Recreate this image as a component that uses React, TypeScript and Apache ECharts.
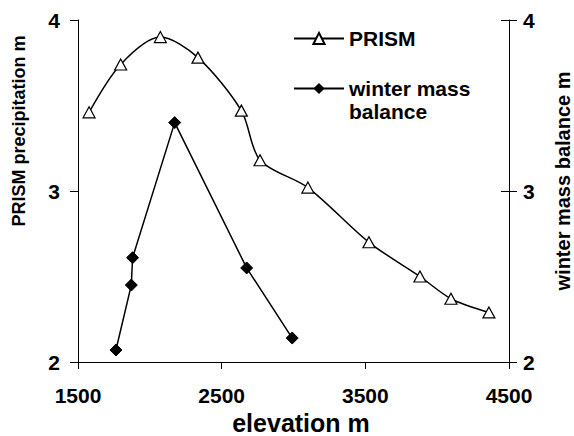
import React, { useEffect, useRef } from "react";
import * as echarts from "echarts";

const prismElev = [1577, 1797, 2073, 2335, 2637, 2767, 3100, 3525, 3880, 4096, 4360];
const prismPrecip = [3.46, 3.74, 3.9, 3.78, 3.47, 3.18, 3.02, 2.7, 2.5, 2.37, 2.29];
const wmbElev = [1764, 1871, 1880, 2173, 2674, 2991];
const wmbValue = [2.07, 2.45, 2.61, 3.4, 2.55, 2.14];

const xTicks = { min: 1500, max: 4500, interval: 1000 };
const yTicks = { min: 2, max: 4, interval: 1 };

const FONT = "'Liberation Sans', Arial, sans-serif";

export default function App() {
  const ref = useRef<HTMLDivElement>(null);
  useEffect(() => {
    if (!ref.current) return;
    const chart = echarts.init(ref.current, undefined, { renderer: "svg" });
    const axisLine = { show: true, lineStyle: { color: "#000", width: 1 } };
    const labelStyle = { color: "#000", fontSize: 21, fontWeight: "bold" as const, fontFamily: FONT };
    chart.setOption({
      animation: false,
      backgroundColor: "#fff",
      grid: { left: 78, right: 65, top: 20, bottom: 74, containLabel: false, outerBoundsMode: "none" },
      legend: [
        {
          data: ["PRISM"],
          orient: "vertical",
          left: 293,
          top: 27,
          padding: 0,
          itemWidth: 50,
          itemHeight: 14,
          textStyle: { ...labelStyle, lineHeight: 23 },
          selectedMode: false,
        },
        {
          data: ["winter mass balance"],
          orient: "vertical",
          left: 293,
          top: 54,
          padding: 0,
          itemWidth: 50,
          itemHeight: 14,
          formatter: () => "\nwinter mass\nbalance",
          textStyle: { ...labelStyle, lineHeight: 23 },
          selectedMode: false,
        },
      ],
      xAxis: {
        type: "value",
        ...xTicks,
        axisLine,
        axisTick: { show: true, length: 7, lineStyle: { color: "#000" } },
        axisLabel: { ...labelStyle, margin: 23, formatter: (v: number) => String(v) },
        splitLine: { show: false },
        name: "elevation m",
        nameLocation: "middle",
        nameGap: 46,
        nameTextStyle: {
          color: "#000",
          fontSize: 25,
          lineHeight: 24,
          fontWeight: "bold",
          fontFamily: FONT,
          padding: [0, 0, 0, 15],
        },
      },
      yAxis: [
        {
          type: "value",
          position: "left",
          ...yTicks,
          axisLine,
          axisTick: { show: true, length: 8, lineStyle: { color: "#000" } },
          axisLabel: { ...labelStyle, margin: 18 },
          splitLine: { show: false },
          name: "PRISM precipitation m",
          nameLocation: "middle",
          nameGap: 50,
          nameTextStyle: { color: "#000", fontSize: 18, fontWeight: "bold", fontFamily: FONT, padding: [0, 0, 0, 120] },
        },
        {
          type: "value",
          position: "right",
          ...yTicks,
          axisLine,
          axisTick: { show: true, length: 8, lineStyle: { color: "#000" } },
          axisLabel: { ...labelStyle, margin: 14 },
          splitLine: { show: false },
          name: "winter mass balance m",
          nameLocation: "middle",
          nameGap: 44,
          nameTextStyle: { color: "#000", fontSize: 20, fontWeight: "bold", fontFamily: FONT, padding: [0, 0, 0, 20] },
        },
        {
          type: "value",
          position: "right",
          ...yTicks,
          axisLine: { show: false },
          axisTick: { show: true, inside: true, length: 8, lineStyle: { color: "#000" } },
          axisLabel: { show: false },
          splitLine: { show: false },
        },
      ],
      series: [
        {
          name: "PRISM",
          type: "line",
          yAxisIndex: 0,
          smooth: 0.3,
          data: prismElev.map((x, i) => [x, prismPrecip[i]]),
          symbol: "triangle",
          symbolSize: [12, 11],
          lineStyle: { color: "#000", width: 1.5 },
          itemStyle: { color: "#fff", borderColor: "#000", borderWidth: 1.2 },
          z: 3,
        },
        {
          name: "winter mass balance",
          type: "line",
          yAxisIndex: 1,
          data: wmbElev.map((x, i) => [x, wmbValue[i]]),
          symbol: "diamond",
          symbolSize: 12,
          lineStyle: { color: "#000", width: 1.5 },
          itemStyle: { color: "#000", borderColor: "#000" },
          z: 2,
        },
      ],
    });
    return () => chart.dispose();
  }, []);
  return (
    <div
      ref={ref}
      style={{ position: "fixed", left: 0, top: 0, width: 574, height: 436, background: "#fff" }}
    />
  );
}
